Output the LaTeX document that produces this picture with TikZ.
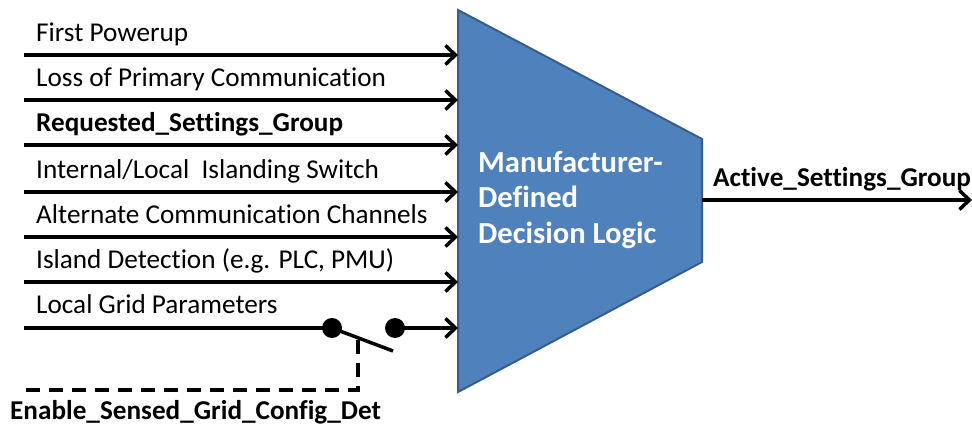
\documentclass[tikz,border=0pt]{standalone}
\usepackage{fontspec}
\setmainfont[Ligatures=NoCommon]{Carlito}
\usetikzlibrary{arrows.meta}
\definecolor{boxfill}{HTML}{4F81BD}
\definecolor{boxline}{HTML}{385D8A}
\begin{document}
\begin{tikzpicture}[x=1pt,y=-1pt,
  sig/.style={line width=3.5pt,-{Straight Barb[length=10pt,width=19pt,line width=3.5pt]}},
  lbl/.style={anchor=base west,inner sep=0pt,font=\fontsize{27.2}{31}\selectfont},
  blbl/.style={lbl,font=\fontsize{27.2}{31}\selectfont\bfseries},
  dot/.style={circle,fill=black,minimum size=20pt,inner sep=0pt}]
\useasboundingbox (0,0) rectangle (972,427);
% trapezoid
\coordinate (tl) at (458,10);
\coordinate (bl) at (458,392);
\coordinate (tr) at (702,139);
\coordinate (br) at (702,262);
\draw[boxline,line width=2pt,fill=boxfill] (tl) -- (tr) -- (br) -- (bl) -- cycle;
\node[anchor=north west,inner sep=0pt,text=white,align=left,
  font=\fontsize{30.6}{35.5}\selectfont\bfseries] (logic) at (478,151)
  {Manufacturer-\\Defined\\Decision Logic};
% inputs
\foreach \y/\n in {55/a,100/b,145/c,192/d,237/e,282/f}{
  \coordinate (s\n) at (24,\y);
  \coordinate (e\n) at (458,\y);
  \draw[sig] (s\n) -- (e\n);
}
\node[lbl] (la) at (36,42) {First Powerup};
\node[lbl] (lb) at (36,87) {Loss of Primary Communication};
\node[blbl] (lc) at (36,132) {Requested\_Settings\_Group};
\node[lbl] (ld) at (36,179) {Internal/Local\ \ Islanding Switch};
\node[lbl] (le) at (36,224) {Alternate Communication Channels};
\node[lbl] (lf) at (36,269) {Island Detection (e.g. PLC, PMU)};
\node[lbl] (lg) at (36,314) {Local Grid Parameters};
% switched input
\coordinate (sg) at (24,328);
\node[dot] (d1) at (332,328) {};
\node[dot] (d2) at (395,328) {};
\coordinate (eg) at (458,328);
\draw[line width=3.5pt] (sg) -- (d1.center);
\draw[sig] (d2.center) -- (eg);
\coordinate (blade) at (393,351);
\draw[line width=3.5pt] (d1.center) -- (blade);
\coordinate (ctl) at (358,340);
\coordinate (cc) at (358,390);
\coordinate (cs) at (24,390);
\draw[line width=3.5pt,dash pattern=on 14pt off 9pt] (ctl) -- (cc) -- (cs);
\node[blbl] (en) at (10,420) {Enable\_Sensed\_Grid\_Config\_Det};
% output
\coordinate (out) at (972,200);
\draw[sig] (702,200) -- (out);
\node[blbl] (act) at (713,187) {Active\_Settings\_Group};
\end{tikzpicture}
\end{document}
